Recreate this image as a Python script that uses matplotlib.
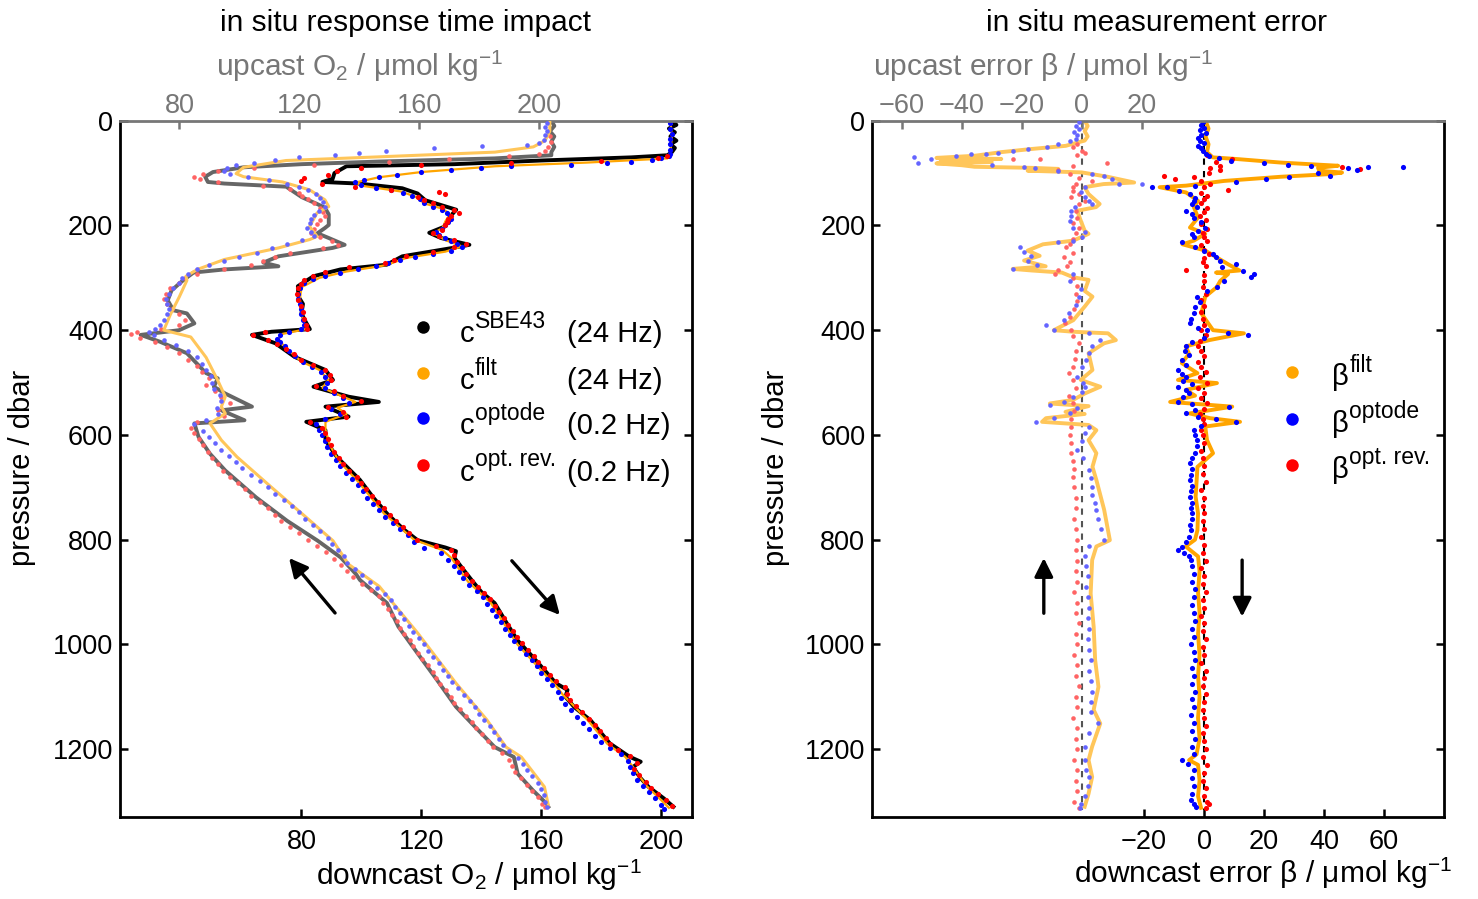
import numpy as np
import matplotlib
matplotlib.use("Agg")
import matplotlib.pyplot as plt

plt.rcParams['font.family'] = ['Liberation Sans', 'DejaVu Sans']
plt.rcParams['mathtext.fontset'] = 'custom'
plt.rcParams['mathtext.rm'] = 'Liberation Sans'
plt.rcParams['mathtext.it'] = 'Liberation Sans:italic'
plt.rcParams['mathtext.bf'] = 'Liberation Sans:bold'
plt.rcParams['mathtext.default'] = 'regular'

# ---------------- data: (pressure dbar, value) ----------------
# left panel, downcast O2 (bottom axis)
sbe_dn = [(0, 203.5), (8, 205), (15, 202.5), (22, 204.5), (30, 203), (38, 205), (45, 203), (52, 204.5),
          (60, 203.5), (66, 202), (70, 190), (76, 160), (83, 131), (87, 95), (100, 91), (111, 90.4),
          (117, 87), (120, 99), (129, 113.6), (139, 118.7), (152, 121.3), (161, 126.5), (170, 131.6),
          (180, 130), (189, 129), (202, 127.8), (214, 122.6), (224, 126.5), (237, 136), (243, 130.3),
          (259, 113.6), (275, 108.4), (284, 93), (297, 84), (316, 78.8), (336, 79), (350, 80.5),
          (368, 80), (385, 81.5), (398, 82.8), (403, 70), (409, 63.5), (425, 71.3), (451, 77.7),
          (476, 88), (495, 90.5), (508, 84), (527, 95.7), (537, 105.8), (546, 88), (565, 95.7),
          (575, 81.6), (591, 88), (610, 88), (642, 91.8), (686, 99.5), (720, 104), (750, 108.5),
          (780, 114), (801, 118.7), (815, 128), (822, 131.5), (835, 131), (858, 134.1), (877, 136.7),
          (900, 140), (921, 144.4), (960, 148.5), (992, 152), (1020, 156.5), (1049, 161), (1074, 164.8),
          (1087, 168.7), (1100, 168), (1120, 171), (1145, 176.4), (1189, 182.8), (1214, 189.2),
          (1224, 193.1), (1234, 190.5), (1255, 193), (1272, 195.7), (1294, 200.8), (1310, 204)]
filt_dn = [(0, 203), (30, 203.5), (60, 203), (72, 202), (80, 175), (87, 144.5), (98, 120), (108, 105.8),
           (118, 98), (125, 101), (135, 113), (145, 118), (158, 121), (168, 127), (178, 129.5), (192, 128),
           (205, 127), (215, 124), (228, 128), (240, 133.5), (250, 128), (262, 115), (276, 108), (288, 95),
           (300, 86), (318, 80), (340, 79.5), (370, 80), (398, 81.5), (408, 73), (420, 72.5), (440, 76),
           (460, 80), (476, 86), (495, 89), (510, 87), (525, 93), (537, 98), (548, 92), (560, 95),
           (575, 88), (590, 88), (620, 89.5), (650, 92.5), (690, 99), (750, 107.5), (800, 117.5),
           (820, 127), (835, 130), (860, 133), (880, 135.5), (920, 143), (960, 147.5), (1000, 152),
           (1050, 160), (1080, 165), (1095, 167), (1145, 175.5), (1190, 182), (1215, 188), (1230, 190),
           (1270, 195), (1295, 199.5), (1312, 202.5)]
opt_dn = [(5, 203), (15, 203), (25, 203.5), (35, 203), (45, 203), (55, 203), (63, 203), (68, 202.5),
          (72, 200), (75, 197), (78, 190), (81, 182), (84, 170), (87, 150), (90, 140), (94, 130), (98, 120),
          (103, 112), (108, 106), (113, 101), (118, 98), (123, 100), (128, 105), (133, 110), (138, 114),
          (144, 117), (150, 119.5), (157, 121), (164, 124), (170, 127), (176, 128.5), (182, 129.5),
          (188, 130), (194, 129), (200, 128), (206, 127), (212, 125), (218, 126), (224, 128), (230, 130),
          (236, 132), (242, 133.5), (248, 130), (254, 124), (260, 118), (266, 113), (272, 109), (278, 105),
          (284, 99), (290, 93), (296, 88), (302, 84), (310, 81), (320, 79.5), (330, 79), (340, 79),
          (350, 79.5), (360, 80), (370, 80), (380, 80.5), (390, 81), (398, 80), (404, 76), (410, 73),
          (416, 72), (422, 73), (430, 74.5), (440, 76), (450, 78), (460, 80.5), (470, 83.5), (480, 86.5),
          (490, 88), (500, 88.5), (510, 88), (520, 91), (530, 94), (540, 96), (550, 90), (560, 93),
          (570, 88), (580, 85), (590, 86), (600, 87), (612, 88), (624, 88.5), (636, 90), (648, 91.5),
          (660, 93), (672, 95), (684, 97), (696, 99), (708, 100.5), (720, 102), (732, 104), (744, 106),
          (756, 108), (768, 110.5), (780, 113), (792, 115.5), (804, 117.5), (816, 121), (826, 126.5),
          (838, 129), (850, 131), (862, 132.5), (874, 134), (886, 136), (898, 138.5), (910, 140.5),
          (922, 142), (934, 143.5), (946, 145), (958, 146.5), (970, 148), (982, 149.5), (994, 151),
          (1006, 153), (1018, 155), (1030, 157), (1042, 158.5), (1054, 160), (1066, 162), (1078, 163.5),
          (1090, 165.5), (1102, 166.5), (1114, 168), (1126, 170), (1138, 172), (1150, 174), (1162, 176),
          (1174, 178), (1186, 180), (1198, 183), (1210, 186.5), (1222, 189), (1234, 189.5), (1246, 190.5),
          (1258, 192), (1270, 194), (1282, 196), (1294, 198), (1306, 200), (1314, 201)]
rev_dn = [(68, 202), (72, 199), (76, 180), (80, 150), (84, 120), (90, 100), (96, 92), (103, 89), (110, 81),
          (115, 80), (120, 87), (126, 98), (132, 110), (137, 126), (140, 128), (146, 119), (152, 121),
          (158, 124), (164, 127), (170, 131), (176, 132.5), (182, 130), (188, 129), (194, 128.5), (200, 128),
          (208, 127), (214, 124), (220, 126), (228, 131), (236, 135), (242, 131), (250, 124), (258, 115),
          (266, 111), (272, 108), (280, 96), (288, 88), (296, 84), (304, 81), (312, 80), (320, 79),
          (330, 78.5), (342, 79), (354, 80), (366, 80.5), (378, 81), (390, 81.5), (398, 82), (404, 68),
          (410, 64), (418, 69), (426, 72), (436, 75), (446, 77.5), (456, 80), (466, 84), (476, 88),
          (486, 89.5), (496, 90), (506, 85), (516, 91), (526, 94), (536, 100), (546, 89), (556, 94),
          (566, 95), (576, 83), (586, 87), (596, 88), (608, 89), (620, 90), (632, 91), (644, 92.5),
          (656, 94), (668, 96), (680, 98.5), (692, 100), (704, 101.5), (716, 103.5), (728, 105.5),
          (740, 107.5), (752, 109.5), (764, 111.5), (776, 114), (788, 116), (800, 118.5), (812, 125),
          (820, 130), (830, 131), (842, 132), (854, 133.5), (866, 135), (878, 137), (890, 139), (902, 141),
          (914, 143), (926, 144.5), (938, 146), (950, 147.5), (962, 149), (974, 150.5), (986, 152),
          (998, 153.5), (1010, 155.5), (1022, 157.5), (1034, 159), (1046, 161), (1058, 163), (1070, 165),
          (1082, 168), (1094, 168.5), (1106, 169.5), (1118, 171.5), (1130, 173.5), (1142, 176), (1154, 178),
          (1166, 179.5), (1178, 181.5), (1190, 183), (1202, 185.5), (1214, 189.5), (1226, 192), (1238, 191),
          (1250, 192.5), (1262, 195), (1274, 196.5), (1286, 199), (1298, 201.5), (1308, 203.5)]

# left panel, upcast O2 (top axis)
sbe_up = [(0, 204), (10, 205), (20, 203.5), (30, 205), (40, 204), (50, 205), (60, 204), (66, 204),
          (72, 185), (78, 146.6), (83, 120.8), (89, 101.4), (98, 91.2), (107, 88.6), (117, 89.5), (120, 95),
          (126, 115.6), (146, 120.8), (159, 125.9), (166, 128.5), (179, 129.8), (199, 129.8), (205, 128.5),
          (215, 126), (224, 129.8), (237, 135.1), (243, 131), (259, 113), (271, 108), (278, 113), (284, 95),
          (290, 84.7), (305, 81.2), (324, 77.4), (343, 76.1), (362, 78), (368, 82.5), (387, 85), (400, 79.9),
          (409, 67.1), (422, 73.5), (444, 82.5), (482, 88.9), (492, 92.8), (508, 91.5), (521, 95.3),
          (546, 104.2), (553, 94), (572, 101.7), (578, 85), (604, 86.4), (636, 90.2), (668, 95.3),
          (719, 105.5), (764, 115.9), (802, 126.1), (834, 133.8), (866, 138.9), (877, 140.2), (921, 149.2),
          (966, 153), (1017, 159.4), (1068, 165.9), (1119, 172.2), (1157, 178.5), (1196, 185.1),
          (1215, 191.5), (1247, 192.8), (1279, 197.9), (1304, 202.4), (1310, 203)]
filt_up = [(0, 203.5), (20, 203.5), (38, 201.9), (50, 198), (60, 185.2), (69, 146.6), (76, 115.6),
           (89, 101.4), (101, 98.9), (107, 101.4), (117, 114.4), (132, 123.4), (151, 128.5), (164, 129.8),
           (176, 125.9), (202, 123.4), (221, 125.9), (227, 123.4), (243, 113), (265, 95), (284, 86),
           (297, 82.2), (305, 82.5), (336, 80), (370, 77), (400, 74.8), (413, 83.8), (452, 88.9),
           (496, 92.8), (527, 95.3), (546, 94), (559, 95.3), (578, 90.2), (610, 94), (642, 99.2),
           (700, 110.7), (751, 121), (802, 131.2), (847, 136.4), (889, 146.6), (978, 159.4), (1074, 172.2),
           (1144, 182.5), (1196, 188.9), (1215, 194), (1272, 201.7), (1307, 203)]
opt_up = [(5, 202.5), (12, 202), (20, 202.5), (28, 202), (36, 201.5), (42, 200), (46, 196), (49, 181),
          (53, 165), (58, 149), (62, 140), (65, 132), (70, 120), (75, 112), (80, 105), (85, 99), (90, 96),
          (96, 95), (102, 97), (108, 103), (114, 110), (120, 116), (126, 120), (132, 123), (140, 125.5),
          (148, 127), (156, 128), (164, 128.5), (172, 126.5), (180, 125), (188, 124), (196, 123.5),
          (204, 122.5), (212, 124), (220, 125), (228, 121), (236, 116), (244, 111), (252, 106), (260, 100),
          (268, 95), (276, 90), (284, 86), (292, 83), (300, 81), (310, 80), (320, 78), (330, 76.5),
          (340, 75.5), (350, 76), (360, 76.5), (370, 76), (380, 75), (390, 73.5), (398, 72), (404, 70),
          (410, 71.5), (418, 75), (428, 79), (440, 83), (452, 86), (464, 87.5), (476, 89), (488, 90.5),
          (500, 91), (512, 91.5), (524, 93.5), (536, 94), (548, 92.5), (560, 93), (572, 89), (580, 85),
          (592, 88), (604, 90), (616, 92), (628, 94), (640, 96.5), (652, 99), (664, 101), (676, 104),
          (688, 107), (700, 109.5), (712, 112), (724, 115), (736, 117.5), (748, 120), (760, 122),
          (772, 124.5), (784, 127), (796, 129.5), (808, 131), (820, 133), (832, 135), (844, 136),
          (856, 138.5), (868, 141), (880, 143.5), (892, 146), (904, 148.5), (916, 150.5), (928, 152),
          (940, 153.5), (952, 155), (964, 156.5), (976, 158), (988, 160), (1000, 161.5), (1012, 163),
          (1024, 164.5), (1036, 166.5), (1048, 168), (1060, 169.5), (1072, 171), (1084, 173), (1096, 175),
          (1108, 177), (1120, 178.5), (1132, 180), (1144, 181.5), (1156, 183.5), (1168, 185), (1180, 186.5),
          (1192, 188), (1204, 190), (1216, 193), (1228, 194.5), (1240, 196), (1252, 197.5), (1264, 199.5),
          (1276, 200.5), (1288, 201.5), (1300, 202), (1310, 202.5)]
rev_up = [(30, 203.5), (40, 204), (50, 203), (58, 202), (63, 200), (68, 190), (73, 170), (78, 150),
          (84, 125), (90, 105), (96, 93), (102, 88), (107, 85), (112, 87), (118, 93), (124, 108), (130, 117),
          (138, 120), (144, 121), (150, 123), (158, 125), (166, 127), (174, 128), (182, 128.5), (190, 127),
          (198, 126), (206, 125), (214, 124), (222, 127), (230, 131), (238, 133), (244, 128), (252, 117),
          (260, 112), (268, 108), (276, 104), (284, 95), (292, 86), (300, 82), (310, 80), (320, 77),
          (330, 75.5), (340, 75), (350, 76), (360, 77.5), (370, 80), (380, 82), (390, 80), (398, 74),
          (404, 66), (408, 64), (414, 67), (422, 72), (432, 76), (444, 80), (456, 83), (468, 86),
          (480, 87.5), (492, 90), (504, 89), (516, 92), (528, 94), (540, 97), (552, 93), (564, 95),
          (576, 86), (586, 84), (596, 85), (608, 86.5), (620, 88), (632, 89.5), (644, 91), (656, 93),
          (668, 94.5), (680, 97), (692, 99.5), (704, 102), (716, 104), (728, 107), (740, 109.5), (752, 112),
          (764, 114), (776, 117), (788, 120), (800, 123), (812, 126), (824, 129), (836, 131.5), (848, 134),
          (860, 136), (872, 138), (884, 141), (896, 144), (908, 146.5), (920, 148), (932, 149.5),
          (944, 151), (956, 152.5), (968, 153.5), (980, 155), (992, 157), (1004, 158), (1016, 159.5),
          (1028, 161), (1040, 163), (1052, 164.5), (1064, 165.5), (1076, 167), (1088, 169), (1100, 170.5),
          (1112, 171.5), (1124, 173.5), (1136, 175.5), (1148, 177.5), (1160, 179), (1172, 181),
          (1184, 183), (1196, 184.5), (1208, 187.5), (1220, 190), (1232, 191), (1244, 192), (1256, 194),
          (1268, 196), (1280, 197.5), (1292, 199.5), (1304, 201), (1310, 202)]

# right panel, upcast error beta (top axis)
bfilt_up = [(0, 1), (10, 2), (20, 1), (30, 2), (38, 1), (41, -1), (48, -5.3), (54, -16.7), (60, -26.8),
            (67, -35.7), (71, -48.4), (73, -26.8), (76, -47), (79, -30), (81.5, -48.4), (85, -40),
            (88, -35.7), (90, -16.7), (92, -7.8), (95.5, -18), (98.7, 0), (107, 8.6), (118, 17.5),
            (121, 7.3), (127, 1), (140, 2.3), (159, 6), (165, 4.8), (172, -1.5), (191, -0.3), (210, 1),
            (216, 2.3), (229, -2.8), (236, -12.9), (248, -18), (258, -14), (267, -19.2), (278, -12),
            (283, -23), (286, -16.7), (290, -6.6), (299, -2.8), (304, 2.3), (325, 1), (336, 3.6), (355, 1),
            (381, -2.8), (400, -9.3), (403, -2.8), (406, 8.8), (419, 11.4), (425, 7.5), (444, 2.3),
            (476, 3.6), (495, -0.3), (508, 6.2), (521, 1), (533, -2.8), (540, -10.6), (545, 2.3),
            (556, -5.4), (560, 1), (568, -11.9), (575, -13.2), (581, 2.3), (591, 4.9), (610, 2.3),
            (635, 4.9), (661, 3.6), (686, 4.9), (743, 7.5), (801, 9.4), (813, 4.9), (839, 3.5), (903, 3),
            (966, 4), (1030, 4.5), (1081, 5.6), (1125, 4), (1151, 6.2), (1195, 3.5), (1221, 2.3),
            (1253, 3.5), (1285, 2.3), (1310, 1)]
bopt_up = [(3, -1), (10, -2), (16, -1), (22, -2.5), (28, -1.5), (34, -2), (38, -4), (45, -8), (51, -11.6),
           (54, -18), (57, -23), (61, -28), (64, -31.9), (64.5, -37), (67, -42), (70, -56), (73, -50.3),
           (80, -54.7), (85, -30), (89, -19.2), (91, -15.4), (95.5, -7.8), (102, 3.5), (105, 7.3), (112, 10),
           (120, 20), (121, 12.4), (127, 1), (137, -0.3), (146, 1), (153, 2.3), (159, 3.5), (165, -2.2),
           (172, -3.4), (182, -3.5), (191, -4), (204, -2.8), (213, 1), (222, 0), (229, -2.8), (232, -7.8),
           (242, -20.5), (251, -19.2), (259, -17), (267, -18), (275, -15), (283, -23), (293, -2.8),
           (306, -4), (322, -0.3), (336, -1), (352, -2), (368, -4.1), (380, -6), (390, -11.9), (400, -9.3),
           (406, 2.3), (419, 6.2), (431, 3.6), (444, 2.5), (457, 1.5), (470, 0), (489, -1.6), (500, 0.5),
           (508, 1), (518, 0), (527, -2.8), (537, -6), (543, -10.6), (549, -1.6), (558, -4), (568, -9.3),
           (575, -15.1), (584, 2.3), (597, 1), (612, 0), (629, -1.6), (645, 0.5), (667, 2.3), (683, 3),
           (699, 3.6), (715, 3.5), (730, 4.5), (743, 4.9), (760, 5.5), (780, 6.5), (801, 7.5), (813, 2.3),
           (832, 1), (850, 1.5), (870, 2), (890, 1.5), (910, 2), (930, 2.5), (950, 2), (970, 2.5), (990, 2),
           (1010, 2.5), (1030, 3), (1050, 2.5), (1070, 3), (1090, 3.5), (1110, 3), (1130, 3), (1151, 5.6),
           (1170, 2.5), (1195, 1), (1221, 1), (1240, 1.5), (1253, 2.3), (1270, 2), (1290, 1), (1304, -0.3),
           (1312, -0.5)]
brev_up = [(45, -1.5), (51, -2.8), (57, 0), (62, 1), (66, -1.5), (73, -23), (73.5, -14), (80, 8.6),
           (86, -3), (95, -7.8), (102, -4), (110, -1), (115, 3.5), (120, -2), (126, -3), (134, -2.8),
           (140, -1), (146, -3.5), (153, 1), (160, -1), (172, -2), (185, -1.5), (195, -3), (205, -1),
           (215, -2), (225, -3), (235, -4), (242, -5.3), (252, -3), (260, -6), (270, -4), (278, -5),
           (286, -7.8), (293, -9), (300, -3), (315, -1.5), (330, -2), (345, -1.5), (360, -2.5), (375, -4),
           (387, -5.4), (400, -3.5), (412, -2.8), (425, -1), (440, -2), (455, -2.2), (470, -3), (482, -4.1),
           (495, -3), (510, -2), (525, -4.1), (540, -3), (555, -2.5), (570, -3.5), (584, -3.5), (600, -4),
           (615, -3.5), (635, -3.5), (650, -3), (665, -2.5), (680, -3), (700, -2.5), (720, -2), (740, -2),
           (760, -2.5), (780, -2), (800, -1.5), (820, -2), (840, -1.5), (860, -2), (880, -1.5), (900, -2.5),
           (920, -1.5), (940, -2), (960, -1), (980, -2), (1000, -1.5), (1020, -2.5), (1040, -1.5),
           (1060, -2), (1080, -1), (1100, -2), (1120, -1.5), (1140, -3), (1160, -1.5), (1180, -2),
           (1200, -1.5), (1220, -2.5), (1240, -1.5), (1260, -2), (1280, -1.5), (1300, -2.5), (1312, -1)]

# right panel, downcast error beta (bottom axis)
bfilt_dn = [(0, 0.5), (15, 1.5), (30, 0.5), (45, 1.5), (60, 1), (70, 2.9), (73, 10.5), (80, 25.7),
            (86, 44.7), (90, 38), (95.5, 38.4), (99, 46), (102, 42), (107, 25.7), (115, 6.7), (124, -6),
            (127, -14.8), (137, -6), (153, -2), (165, -3.4), (185, -2), (204, -4.7), (216, 0.4),
            (229, -3.4), (236, -7.2), (248, 0.4), (261, 4.2), (274, 8), (286, 11.8), (290, 4), (293, 8),
            (306, 5.4), (318, 4.2), (336, 0.4), (368, -0.9), (400, 3), (406, 13.3), (419, 1.7), (431, -6.1),
            (445, -5), (463, -7.4), (482, -2.2), (495, -8.7), (501, 4.3), (514, -6.1), (525, -3),
            (537, -11.3), (546, 9.4), (559, -4.8), (568, 2), (575, 12), (584, 0.4), (610, 1), (635, 3),
            (661, -2.2), (690, -2.5), (718, -2.8), (750, -2), (782, -2.2), (800, -3), (813, -6.1),
            (832, -2), (860, -1.5), (900, -2), (940, -1.5), (980, -2), (1020, -1.5), (1060, -2),
            (1100, -1.5), (1140, -2), (1180, -1.5), (1210, -2.5), (1221, -5), (1230, -2), (1260, -1.5),
            (1290, -2), (1312, -1)]
bopt_dn = [(3, -0.5), (8, -1), (13, 0), (18, -1.5), (23, 0.5), (28, -1), (33, -2), (38, -1.5), (43, 0),
           (48, -2), (53, -1), (58, -0.5), (63, 0.5), (68, 1.5), (72, 5), (76, 9), (80, 20), (84, 28),
           (86, 35.8), (88, 54.8), (89, 66.2), (91, 48), (95, 51), (99, 38), (105, 42), (108, 28.2),
           (111, 20.6), (118, 10.5), (124, -3), (127, -12.3), (127.5, -17.3), (134, -8.5), (140, -4.7),
           (147, -3), (153, -3.4), (160, -4), (165, -2.2), (172, -5.9), (178, -4), (185, -3.4), (194, -0.9),
           (204, 0.4), (210, -2), (217, -4), (223, -3.5), (232, -7.2), (242, -3), (249, 0), (255, 2.9),
           (261, 4), (267, 5.4), (274, 10.5), (280, 6), (287, 13), (293, 16.8), (299, 15.6), (306, 6.7),
           (318, 4.2), (326, 1), (336, -2.2), (346, -1.5), (356, -3), (368, -3.5), (378, -4.5), (387, -4.8),
           (395, -2), (400, 1), (406, 8), (409, 14.6), (415, 0), (423, -4), (431, -6.1), (440, -6.5),
           (448, -5), (457, -7.4), (466, -6), (476, -8.7), (483, -7.5), (489, -6.1), (497, -7), (503, -4),
           (508, -8.7), (514, -6), (520, -5), (528, -7), (537, -8.7), (541, -4), (546, 8.2), (552, -3),
           (559, -6.1), (566, -2), (570, 4), (575, 10.7), (583, -1), (591, -3.5), (600, -3), (610, -2.5),
           (622, -2.2), (635, -3), (645, -4), (654, -4.8), (665, -4), (676, -4.5), (686, -4.8), (697, -4),
           (708, -4.5), (718, -4.8), (730, -4), (740, -4.5), (750, -4.1), (760, -4), (772, -4.8),
           (782, -4.5), (795, -5), (805, -6), (814, -7.5), (820, -8.7), (826, -6.7), (832, -5), (839, -4.5),
           (850, -4), (865, -3.5), (880, -4), (895, -3), (910, -3.5), (925, -4), (940, -3.5), (955, -3),
           (970, -4), (985, -3.5), (1000, -4.5), (1015, -3.5), (1030, -3), (1045, -4), (1060, -3.5),
           (1075, -4), (1090, -3), (1105, -4), (1120, -3.5), (1135, -4.5), (1150, -3.5), (1165, -4),
           (1180, -3), (1195, -4), (1210, -3.5), (1221, -7.4), (1228, -5.5), (1240, -3.5), (1255, -4),
           (1270, -3.5), (1285, -4), (1298, -4.5), (1305, -3.5), (1311, -2.8)]
brev_dn = [(66, 1), (73, 9.2), (78, 4), (86, 5.4), (88, 46), (90, 2), (92, 52), (95, 5.4), (100, 1.6),
           (105, -13.5), (108, -3.4), (111, -9.7), (115, -1), (120, 2), (126, 0), (132, 8), (138, -1),
           (144, 1), (150, 0), (158, -1), (166, 1), (174, 0), (182, -1.5), (190, 0.5), (198, -1), (206, 1),
           (214, -0.5), (222, 0), (230, 1), (238, -1), (246, 0), (254, 1.5), (262, 0), (270, -0.5),
           (278, 0.5), (286, -6), (294, 0), (306, 0), (318, -0.5), (330, 0.5), (342, -1), (354, 0),
           (366, -1), (378, -0.5), (390, 0), (400, -1), (410, 0.5), (420, -1.5), (430, -2), (440, -1),
           (450, 0), (460, -2), (470, -1), (480, 0.5), (490, -1.5), (500, 1), (510, -2), (520, 0),
           (530, -1), (540, 1), (550, 0), (560, -1.5), (570, -0.5), (580, 0), (590, -1), (600, -0.5),
           (615, 0), (630, -1), (645, -0.5), (660, 0), (675, -0.5), (690, 0.5), (705, -1), (720, 0),
           (735, -0.5), (750, 0), (765, -0.5), (780, 0), (795, -1), (810, 0), (825, -0.5), (840, 0.5),
           (855, -1), (870, 0), (885, -0.5), (900, 0.5), (915, -0.5), (930, 0), (945, -1), (960, 0),
           (975, -0.5), (990, 0.5), (1005, -0.5), (1020, 0), (1035, -1), (1050, 0.5), (1065, 0),
           (1080, -0.5), (1095, 0.5), (1110, 0), (1125, -0.5), (1140, 0), (1155, 0.5), (1170, -0.5),
           (1185, 0), (1200, 0.5), (1215, -0.5), (1230, 1), (1245, 0), (1260, -0.5), (1275, 0.5),
           (1290, 0), (1300, 1), (1305, 1.5), (1312, 0.5)]

legend_sup_left = ['SBE43', 'filt', 'optode', 'opt. rev.']
legend_rate = ['(24 Hz)', '(24 Hz)', '(0.2 Hz)', '(0.2 Hz)']
legend_sup_right = ['filt', 'optode', 'opt. rev.']

# colours
BLACK = 'black'
ORANGE = '#FFA500'
BLUE = '#0000FF'
RED = '#FF0000'
GRAY = '#666666'
LORANGE = '#FFC65A'
LBLUE = '#6464FF'
LRED = '#FF6464'
AXGRAY = '#777777'


def unzip(pairs):
    a = np.array(pairs, dtype=float)
    return a[:, 0], a[:, 1]


def line(ax, pairs, color, lw, z):
    p, v = unzip(pairs)
    ax.plot(v, p, color=color, lw=lw, zorder=z, solid_joinstyle='round')


def dots(ax, pairs, color, ms, z):
    p, v = unzip(pairs)
    ax.plot(v, p, 'o', color=color, ms=ms, mec='none', zorder=z)


def style(ax, axt, xlim_b, xlim_t, ticks_b, ticks_t):
    ax.set_ylim(1329, 0)
    ax.set_xlim(*xlim_b)
    axt.set_xlim(*xlim_t)
    ax.set_xticks(ticks_b)
    axt.set_xticks(ticks_t)
    ax.set_yticks([0, 200, 400, 600, 800, 1000, 1200])
    ax.yaxis.set_ticks_position('both')
    for s in ['left', 'right', 'bottom']:
        ax.spines[s].set_linewidth(2.0)
        axt.spines[s].set_visible(False)
    ax.spines['top'].set_visible(False)
    axt.spines['top'].set_color(AXGRAY)
    axt.spines['top'].set_linewidth(2.0)
    ax.tick_params(axis='x', direction='in', length=6, width=1.8, labelsize=19.5, pad=9)
    ax.tick_params(axis='y', direction='in', length=6, width=1.8, labelsize=19.5, pad=5)
    axt.tick_params(axis='x', direction='in', length=6, width=1.8, labelsize=19.5, pad=1.5,
                    colors=AXGRAY)


def legend_row(ax, x_dot, x_txt, y, color, base, sup, base_drop, sup_rise):
    # marker, base letter and a large superscript, offsets in points
    ax.plot([x_dot], [y], 'o', color=color, ms=9, mec='none', transform=ax.transAxes, clip_on=False)
    t = ax.annotate(base, xy=(x_txt, y), xycoords='axes fraction', xytext=(0, -base_drop),
                    textcoords='offset points', fontsize=21, va='baseline', ha='left')
    fig.canvas.draw()
    w = t.get_window_extent().width * 72 / fig.dpi
    ax.annotate(sup, xy=(x_txt, y), xycoords='axes fraction', xytext=(w + 0.5, -base_drop + sup_rise),
                textcoords='offset points', fontsize=16.5, va='baseline', ha='left')


fig = plt.figure(figsize=(14.78, 8.99), dpi=100)
ax1 = fig.add_axes([120 / 1478, 82.3 / 899, 572 / 1478, 696 / 899])
ax1t = ax1.twiny()
ax2 = fig.add_axes([872.3 / 1478, 82.3 / 899, 571.7 / 1478, 696 / 899])
ax2t = ax2.twiny()

# ---- left panel ----
line(ax1t, sbe_up, GRAY, 2.8, 2)
dots(ax1t, rev_up, LRED, 3.3, 3)
line(ax1t, filt_up, LORANGE, 2.2, 4)
dots(ax1t, opt_up, LBLUE, 3.3, 5)

line(ax1, sbe_dn, BLACK, 2.8, 2)
line(ax1, filt_dn, ORANGE, 1.6, 3)
dots(ax1, opt_dn, BLUE, 3.7, 4)
dots(ax1, rev_dn, RED, 3.7, 5)

style(ax1, ax1t, (19.5, 210.2), (60.2, 250.9), [80, 120, 160, 200], [80, 120, 160, 200])

# legend (left)
leg_cols = [BLACK, ORANGE, BLUE, RED]
leg_y = [0.704, 0.637, 0.5724, 0.5052]
for sup, rate, c, y in zip(legend_sup_left, legend_rate, leg_cols, leg_y):
    legend_row(ax1, 0.530, 0.594, y, c, 'c', sup, 11.2, 10.2)
    ax1.annotate(rate, xy=(0.781, y), xycoords='axes fraction', xytext=(0, -11.2),
                 textcoords='offset points', fontsize=21, va='baseline', ha='left')

arrow = dict(arrowstyle='-|>', lw=2.4, color='black', mutation_scale=28, shrinkA=0, shrinkB=0)
ax1.annotate('', xy=(0.2955, 0.3717), xytext=(0.376, 0.2927), xycoords='axes fraction',
             textcoords='axes fraction', arrowprops=arrow)
ax1.annotate('', xy=(0.769, 0.2898), xytext=(0.685, 0.3677), xycoords='axes fraction',
             textcoords='axes fraction', arrowprops=arrow)

# ---- right panel ----
ax2t.plot([0, 0], [0, 1316], color='#555555', lw=1.5, ls=(0, (3, 3)), zorder=1)
ax2.plot([0, 0], [0, 1316], color='black', lw=1.5, ls=(0, (3, 3)), zorder=1)

line(ax2t, bfilt_up, LORANGE, 2.8, 2)
dots(ax2t, brev_up, LRED, 3.3, 3)
dots(ax2t, bopt_up, LBLUE, 3.3, 4)

line(ax2, bfilt_dn, ORANGE, 2.8, 2)
dots(ax2, brev_dn, RED, 3.7, 3)
dots(ax2, bopt_dn, BLUE, 3.7, 4)

style(ax2, ax2t, (-110.6, 80.0), (-69.8, 120.8), [-20, 0, 20, 40, 60], [-60, -40, -20, 0, 20])

leg_cols_r = [ORANGE, BLUE, RED]
leg_y_r = [0.6385, 0.5714, 0.5053]
for sup, c, y in zip(legend_sup_right, leg_cols_r, leg_y_r):
    legend_row(ax2, 0.735, 0.804, y, c, 'β', sup, 9.2, 9.6)

ax2.annotate('', xy=(0.300, 0.3717), xytext=(0.300, 0.2923), xycoords='axes fraction',
             textcoords='axes fraction', arrowprops=arrow)
ax2.annotate('', xy=(0.6469, 0.2874), xytext=(0.6469, 0.3687), xycoords='axes fraction',
             textcoords='axes fraction', arrowprops=arrow)

# ---- titles and axis labels ----
fig.text(405 / 1478, 1 - 23 / 899, 'in situ response time impact', fontsize=21.5, ha='center', va='center')
fig.text(1157 / 1478, 1 - 23 / 899, 'in situ measurement error', fontsize=21.5, ha='center', va='center')
fig.text(360 / 1478, 1 - 76 / 899, 'upcast O$_2$ / μmol kg$^{-1}$', fontsize=21.5, ha='center',
         va='baseline', color=AXGRAY)
fig.text(1043 / 1478, 1 - 76 / 899, 'upcast error β / μmol kg$^{-1}$', fontsize=21.5, ha='center',
         va='baseline', color=AXGRAY)
fig.text(479 / 1478, 1 - 885 / 899, 'downcast O$_2$ / μmol kg$^{-1}$', fontsize=21.5, ha='center',
         va='baseline')
fig.text(1263 / 1478, 1 - 883 / 899, 'downcast error β / μmol kg$^{-1}$', fontsize=21.5, ha='center',
         va='baseline')
fig.text(22 / 1478, 1 - 468 / 899, 'pressure / dbar', fontsize=21, rotation=90, ha='center', va='center')
fig.text(776 / 1478, 1 - 468 / 899, 'pressure / dbar', fontsize=21, rotation=90, ha='center', va='center')

fig.savefig('out.png', dpi=100)
